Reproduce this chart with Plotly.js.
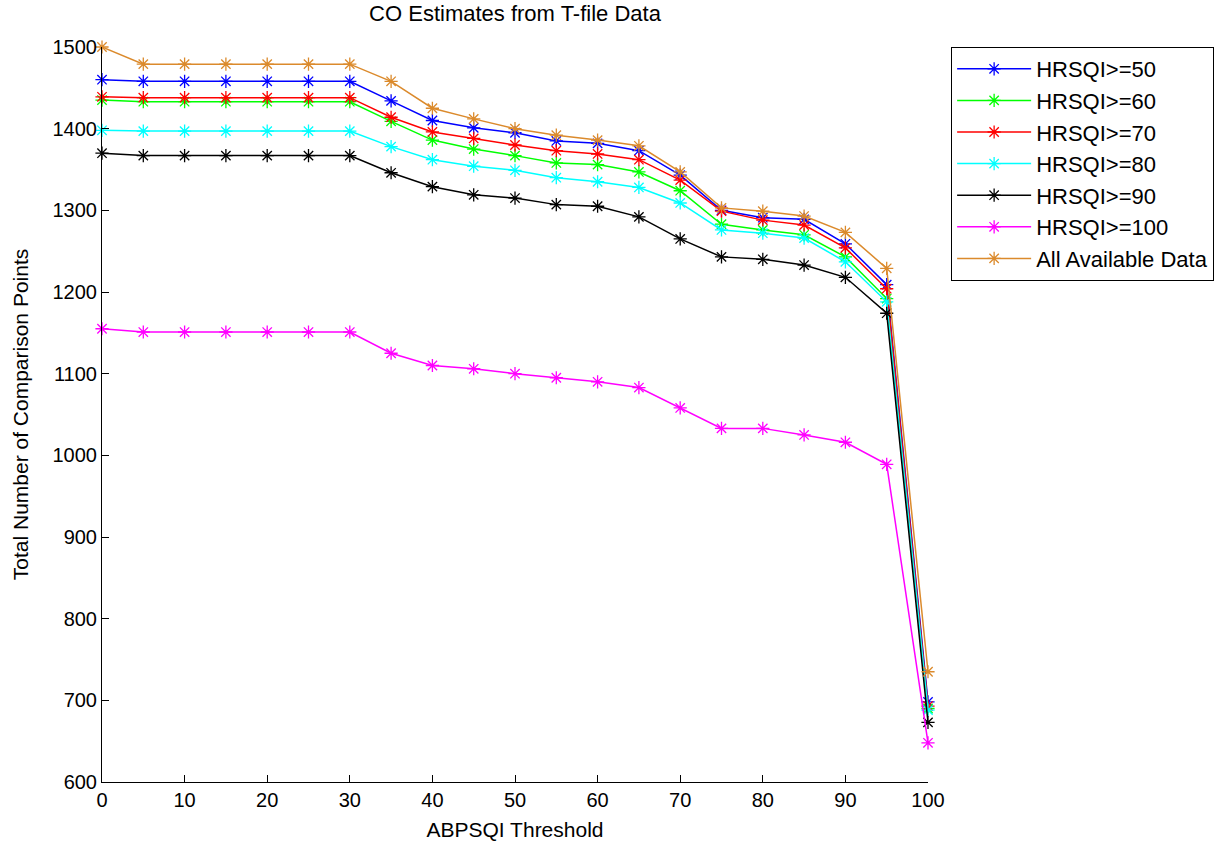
<!DOCTYPE html>
<html>
<head>
<meta charset="utf-8">
<script src="https://cdn.plot.ly/plotly-3.0.1.min.js"></script>
<style>html,body{margin:0;padding:0;background:#fff;}#chart{width:1223px;height:846px;}</style>
</head>
<body>
<div id="chart"></div>
<script>
const thresholds = [0,5,10,15,20,25,30,35,40,45,50,55,60,65,70,75,80,85,90,95,100];
const seriesNames = ["HRSQI>=50","HRSQI>=60","HRSQI>=70","HRSQI>=80","HRSQI>=90","HRSQI>=100","All Available Data"];
const hrsqi50  = [1460,1458,1458,1458,1458,1458,1458,1434,1410,1401,1395,1385,1382,1373,1343,1300,1291,1289,1259,1209,698];
const hrsqi60  = [1435,1433,1433,1433,1433,1433,1433,1409,1386,1375,1367,1358,1356,1347,1324,1283,1276,1270,1243,1192,690];
const hrsqi70  = [1439,1438,1438,1438,1438,1438,1438,1414,1396,1388,1380,1373,1369,1362,1337,1299,1288,1282,1254,1204,693];
const hrsqi80  = [1398,1397,1397,1397,1397,1397,1397,1378,1362,1354,1349,1340,1335,1328,1309,1276,1272,1266,1237,1188,688];
const hrsqi90  = [1370,1367,1367,1367,1367,1367,1367,1346,1329,1319,1315,1307,1305,1292,1265,1243,1240,1233,1218,1174,673];
const hrsqi100 = [1155,1151,1151,1151,1151,1151,1151,1125,1110,1106,1100,1095,1090,1083,1058,1033,1033,1025,1016,989,648];
const allData  = [1500,1479,1479,1479,1479,1479,1479,1458,1425,1412,1400,1392,1386,1379,1347,1303,1299,1293,1273,1229,735];
const xTicks = [0,10,20,30,40,50,60,70,80,90,100];
const yTicks = [600,700,800,900,1000,1100,1200,1300,1400,1500];

const colors = ["#0000FF","#00FF00","#FF0000","#00FFFF","#000000","#FF00FF","#DB8A2C"];
const values = [hrsqi50,hrsqi60,hrsqi70,hrsqi80,hrsqi90,hrsqi100,allData];

const traces = values.map((v,i)=>({
  x: thresholds, y: v, name: seriesNames[i], type:'scatter', mode:'lines+markers',
  legendgroup: 'g'+i, cliponaxis:false,
  line:{color:colors[i], width:1.5},
  marker:{symbol:'asterisk-open', size:11, color:colors[i], line:{color:colors[i], width:1.3}}
}));

const font = "Liberation Sans, Arial, Helvetica, sans-serif";
const layout = {
  width:1223, height:846,
  paper_bgcolor:'#fff', plot_bgcolor:'#fff',
  margin:{l:102, r:295, t:47, b:64, pad:0, autoexpand:false},
  font:{family:font, size:20, color:'#000'},
  title:{text:'CO Estimates from T-file Data', font:{family:font, size:22, color:'#000'},
         x:0.5, xref:'paper', y:0.984, yref:'container', yanchor:'middle', xanchor:'center'},
  xaxis:{range:[0,100], tickvals:xTicks, ticktext:xTicks.map(String), ticks:'inside', ticklen:7, tickcolor:'#000',
         showline:true, linecolor:'#000', linewidth:1, mirror:false, showgrid:false, zeroline:false, automargin:false,
         tickfont:{family:font,size:20,color:'#000'},
         title:{text:'ABPSQI Threshold', font:{family:font,size:21,color:'#000'}, standoff:12}},
  yaxis:{range:[600,1500], tickvals:yTicks, ticktext:yTicks.map(String), ticks:'inside', ticklen:7, tickcolor:'#000',
         showline:true, linecolor:'#000', linewidth:1, mirror:false, showgrid:false, zeroline:false, automargin:false,
         tickfont:{family:font,size:20,color:'#000'},
         title:{text:'Total Number of Comparison Points', font:{family:font,size:21,color:'#000'}, standoff:18}},
  legend:{x:1.028, y:1.0, xanchor:'left', yanchor:'top', bgcolor:'#fff', bordercolor:'#000', borderwidth:1,
          font:{family:font,size:22,color:'#000'}, tracegroupgap:6, traceorder:'normal', itemwidth:74},
  showlegend:true
};
Plotly.newPlot('chart', traces, layout, {displayModeBar:false, staticPlot:true});
</script>
</body>
</html>
